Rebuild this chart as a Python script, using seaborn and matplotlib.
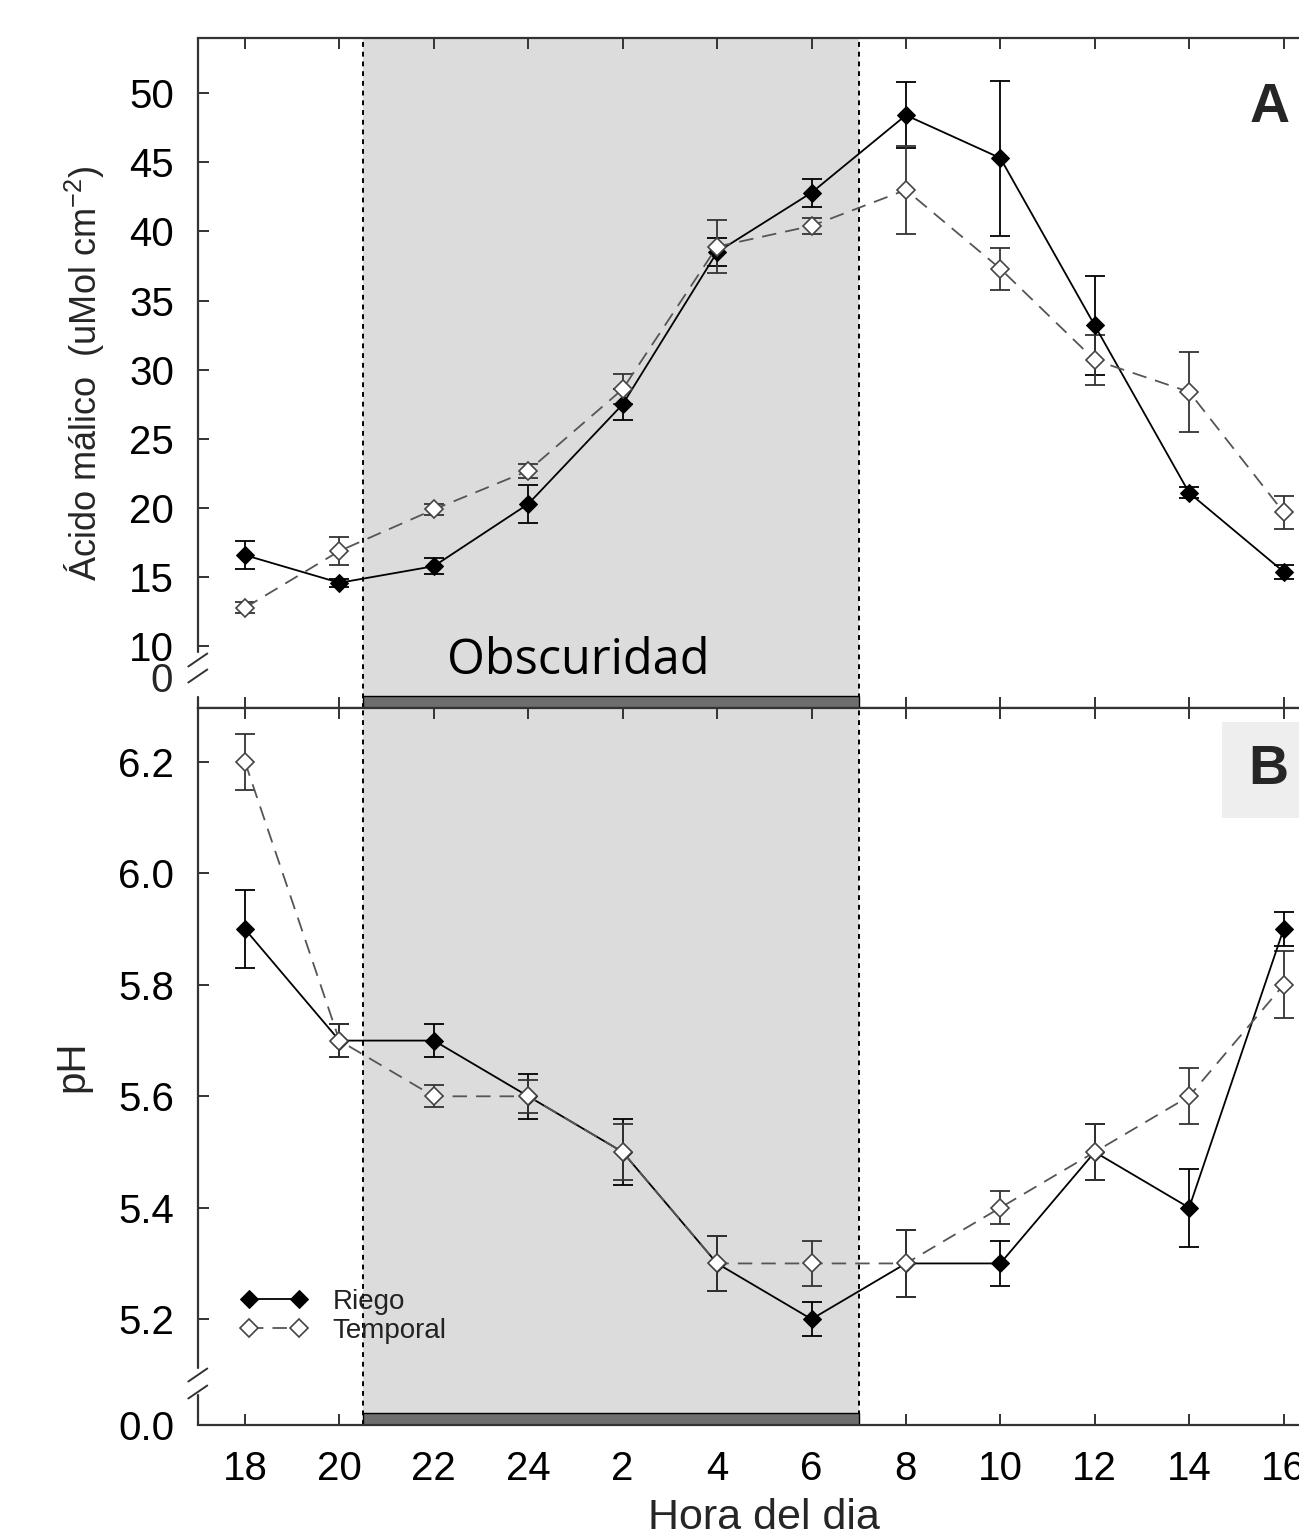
import numpy as np
import pandas as pd
import matplotlib
matplotlib.use("Agg")
import matplotlib.pyplot as plt
import seaborn as sns
from matplotlib.patches import Rectangle

# ---------------- data ----------------
hours = ["18", "20", "22", "24", "2", "4", "6", "8", "10", "12", "14", "16"]

malic_riego = [16.6, 14.6, 15.8, 20.3, 27.5, 38.5, 42.8, 48.4, 45.3, 33.2, 21.1, 15.4]
malic_riego_err = [1.0, 0.3, 0.6, 1.4, 1.1, 1.0, 1.0, 2.4, 5.6, 3.6, 0.4, 0.5]
malic_temporal = [12.8, 16.9, 19.9, 22.7, 28.6, 38.9, 40.4, 43.0, 37.3, 30.7, 28.4, 19.7]
malic_temporal_err = [0.4, 1.0, 0.4, 0.5, 1.1, 1.9, 0.6, 3.2, 1.5, 1.8, 2.9, 1.2]

ph_riego = [5.90, 5.70, 5.70, 5.60, 5.50, 5.30, 5.20, 5.30, 5.30, 5.50, 5.40, 5.90]
ph_riego_err = [0.07, 0.03, 0.03, 0.04, 0.06, 0.05, 0.03, 0.06, 0.04, 0.05, 0.07, 0.03]
ph_temporal = [6.20, 5.70, 5.60, 5.60, 5.50, 5.30, 5.30, 5.30, 5.40, 5.50, 5.60, 5.80]
ph_temporal_err = [0.05, 0.03, 0.02, 0.03, 0.05, 0.05, 0.04, 0.06, 0.03, 0.05, 0.05, 0.06]

malic_ticks = [10, 15, 20, 25, 30, 35, 40, 45, 50]
ph_ticks = [5.01, 5.2, 5.4, 5.6, 5.8, 6.0, 6.2]
ph_ticklabels = ["0.0", "5.2", "5.4", "5.6", "5.8", "6.0", "6.2"]

dark_start, dark_end = 1.25, 6.5

idx = np.arange(len(hours))
df = pd.DataFrame({
    "idx": idx,
    "malic_riego": malic_riego, "malic_temporal": malic_temporal,
    "ph_riego": ph_riego, "ph_temporal": ph_temporal,
})

# ---------------- style ----------------
sns.set_style("ticks")
plt.rcParams['font.family'] = ['Liberation Sans', 'DejaVu Sans']

W, H = 1299, 1530
fig = plt.figure(figsize=(W / 100, H / 100), dpi=100)
left_px, ax_w_px = 197.8, 1133
ax1 = fig.add_axes([left_px / W, (H - 708) / H, ax_w_px / W, 670 / H])
ax2 = fig.add_axes([left_px / W, (H - 1425) / H, ax_w_px / W, 717 / H])

spine_col = "#333333"
temp_col = "#555555"
tick_fs = 29

def draw_series(ax, riego, riego_err, temporal, temporal_err, legend=False):
    ax.axvspan(dark_start, dark_end, color="#dcdcdc", zorder=0, lw=0)
    for xv in (dark_start, dark_end):
        ax.axvline(xv, color="black", lw=1.4, ls=(0, (2.5, 2.5)), zorder=1)
    ax.errorbar(idx, df[riego], yerr=riego_err, fmt="none", ecolor="black",
                elinewidth=1.3, capsize=7, capthick=1.3, zorder=2)
    ax.errorbar(idx, df[temporal], yerr=temporal_err, fmt="none", ecolor="#333333",
                elinewidth=1.3, capsize=7, capthick=1.3, zorder=2)
    sns.lineplot(data=df, x="idx", y=riego, ax=ax, color="black", lw=1.3,
                 marker="D", markersize=9, markerfacecolor="black",
                 markeredgecolor="black", zorder=3,
                 label="Riego" if legend else None, legend=False)
    sns.lineplot(data=df, x="idx", y=temporal, ax=ax, color=temp_col, lw=1.3,
                 linestyle=(0, (8, 5)), marker="D", markersize=9,
                 markerfacecolor="white", markeredgecolor="#444444",
                 markeredgewidth=1.2, zorder=3,
                 label="Temporal" if legend else None, legend=False)

draw_series(ax1, "malic_riego", malic_riego_err, "malic_temporal", malic_temporal_err)
draw_series(ax2, "ph_riego", ph_riego_err, "ph_temporal", ph_temporal_err, legend=True)

for ax in (ax1, ax2):
    ax.set_xlim(-0.5, 11.5)
    ax.set_xticks(idx)
    ax.tick_params(axis="x", direction="in", top=True, bottom=True, length=8,
                   width=1.4, colors=spine_col, labelsize=tick_fs, pad=18,
                   labelcolor="black")
    ax.tick_params(axis="y", direction="in", left=True, right=False, length=8,
                   width=1.4, colors=spine_col, labelsize=tick_fs, pad=17,
                   labelcolor="black")
    for s in ("top", "bottom"):
        ax.spines[s].set_color(spine_col)
        ax.spines[s].set_linewidth(1.6)
    ax.spines["right"].set_visible(False)
    ax.spines["left"].set_visible(False)
    ax.set_xlabel("")

# top panel
ax1.set_ylim(5.55, 53.98)
ax1.set_yticks(malic_ticks)
ax1.set_xticklabels([])
ax1.set_ylabel("Ácido málico  (uMol cm$^{\\mathregular{-2}}$)", fontsize=26, labelpad=16)
ax1.text(-0.022, 7.5, "0", transform=ax1.get_yaxis_transform(), ha="right",
         va="center", fontsize=tick_fs)
ax1.text(0.9463, 0.8955, "A", transform=ax1.transAxes, ha="center", va="center",
         fontsize=40, fontweight="bold")
ax1.text(3.53, 0.070, "Obscuridad", transform=ax1.get_xaxis_transform(),
         ha="center", va="center", fontsize=35, family="Open Sans", color="black")
ax1.axvspan(dark_start, dark_end, ymin=0, ymax=12 / 670, facecolor="#6e6e6e",
            edgecolor="black", lw=1, zorder=1.5)

# bottom panel
ax2.set_ylim(5.01, 6.297)
ax2.set_yticks(ph_ticks)
ax2.set_yticklabels(ph_ticklabels)
ax2.set_xticklabels(hours)
ax2.set_ylabel("pH", fontsize=29, labelpad=19)
ax2.set_xlabel("Hora del dia", fontsize=31, labelpad=7)
ax2.axvspan(dark_start, dark_end, ymin=0, ymax=12 / 717, facecolor="#6e6e6e",
            edgecolor="black", lw=1, zorder=1.5)
ax2.add_patch(Rectangle((0.904, 0.8466), 0.2, 0.134, transform=ax2.transAxes,
                        facecolor="#eeeeee", edgecolor="none", zorder=4))
ax2.text(0.9446, 0.9135, "B", transform=ax2.transAxes, ha="center", va="center",
         fontsize=40, fontweight="bold", zorder=5)
leg = ax2.legend(loc="upper left", bbox_to_anchor=(0.038, 0.19), frameon=False,
                 fontsize=20, numpoints=2, handlelength=2.4, handletextpad=0.9,
                 labelspacing=0.12, borderpad=0, borderaxespad=0)
for t in leg.get_texts():
    t.set_color("#222222")

# broken left spines
def broken_spine(ax, hpx, seg_low, seg_high, slashes):
    ax.plot([0, 0], [0, seg_low], transform=ax.transAxes, color=spine_col,
            lw=1.6, clip_on=False, zorder=5)
    ax.plot([0, 0], [seg_high, 1], transform=ax.transAxes, color=spine_col,
            lw=1.6, clip_on=False, zorder=5)
    dx = 9.5 / ax_w_px
    dy = 6.5 / hpx
    for yc in slashes:
        ax.plot([-dx, dx], [yc - dy, yc + dy], transform=ax.transAxes,
                color=spine_col, lw=1.4, clip_on=False, zorder=5)

broken_spine(ax1, 670, 11 / 670, 56 / 670, [(708 - 660) / 670, (708 - 676) / 670])
broken_spine(ax2, 717, 30 / 717, 57 / 717, [(1425 - 1375) / 717, (1425 - 1392) / 717])

fig.savefig("out.png", dpi=100)
